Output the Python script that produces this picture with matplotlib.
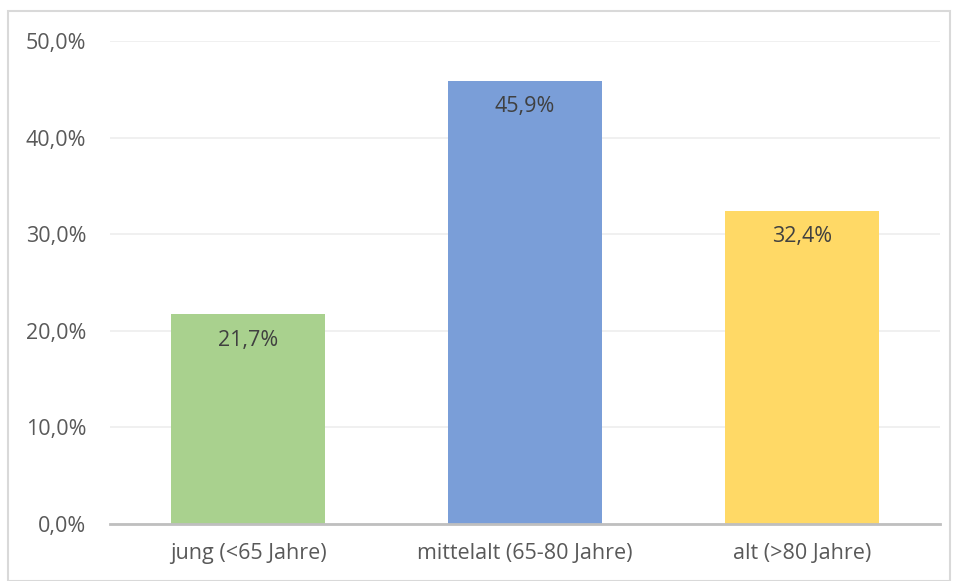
import matplotlib.pyplot as plt
from matplotlib.patches import Rectangle

# data
categories = ['jung (<65 Jahre)', 'mittelalt (65-80 Jahre)', 'alt (>80 Jahre)']
values = [21.7, 45.9, 32.4]
colors = ['#A9D18E', '#7A9ED8', '#FFD966']
yticks = [0, 10, 20, 30, 40, 50]

plt.rcParams['font.family'] = ['Open Sans', 'DejaVu Sans']

fig = plt.figure(figsize=(9.55, 5.81), dpi=100)
ax = fig.add_axes([110/955, 1 - 524/581, 830/955, (524 - 41)/581])

x = range(len(categories))
ax.bar(x, values, width=0.557, color=colors, zorder=2)
for xi, v in zip(x, values):
    ax.text(xi, v - 1.6, f'{v:.1f}%'.replace('.', ','), ha='center', va='top',
            fontsize=15.5, color='#404040', zorder=3)

ax.set_xlim(-0.5, 2.5)
ax.set_ylim(0, 50)
ax.set_yticks(yticks)
ax.set_yticklabels([f'{t:.1f}%'.replace('.', ',') for t in yticks])
ax.set_xticks(list(x))
ax.set_xticklabels(categories)
ax.grid(axis='y', color='#EDEDED', linewidth=1.2, zorder=0)
for s in ['top', 'right', 'left']:
    ax.spines[s].set_visible(False)
ax.spines['bottom'].set_color('#BFBFBF')
ax.spines['bottom'].set_linewidth(2)
ax.spines['bottom'].set_zorder(4)
ax.tick_params(axis='both', length=0, labelsize=15.5, colors='#595959')
ax.tick_params(axis='y', pad=17)
ax.tick_params(axis='x', pad=14)

# outer chart border
fig.patches.append(Rectangle((8/955, 0.0), 942/955, 1 - 11/581, transform=fig.transFigure,
                             fill=False, edgecolor='#D9D9D9', linewidth=1.5))

fig.savefig('out.png', dpi=100)
